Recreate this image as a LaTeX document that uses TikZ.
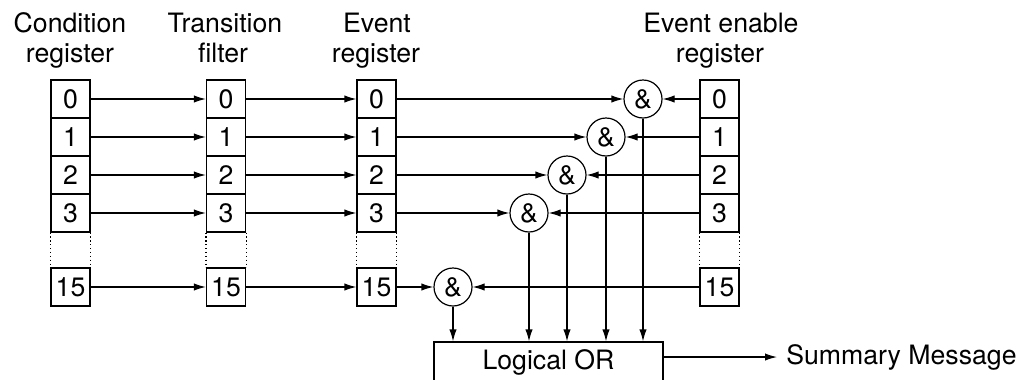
\documentclass[tikz,border=0pt]{standalone}
\usepackage{fontspec}
\setmainfont{TeX Gyre Heros}
\usetikzlibrary{arrows.meta}
\begin{document}
\begin{tikzpicture}[x=0.75pt,y=-0.75pt,
  every node/.style={font=\fontsize{20}{24}\selectfont},
  cell/.style={draw,line width=0.9pt,minimum width=29.25pt,minimum height=28.5pt,inner sep=0pt},
  gate/.style={draw,circle,line width=0.9pt,minimum size=28.5pt,inner sep=0pt},
  arr/.style={line width=0.9pt,-{Latex[length=9pt,width=5.5pt]}},
  hdr/.style={anchor=base,inner sep=0pt},
  dots/.style={dotted,line width=0.9pt},
]
\useasboundingbox (0,0) rectangle (1027,379);
\clip (0,0) rectangle (1027,379);
% headers
\node[hdr] (h1a) at (70,32) {Condition};
\node[hdr] (h1b) at (70,62) {register};
\node[hdr] (h2a) at (225,32) {Transition};
\node[hdr] (h2b) at (223,62) {filter};
\node[hdr] (h3a) at (377,32) {Event};
\node[hdr] (h3b) at (376,62) {register};
\node[hdr] (h4a) at (721,32) {Event enable};
\node[hdr] (h4b) at (720,62) {register};
% register cells
\foreach \c/\x in {a/70.5,b/226,c/376.5,e/719.5}{
  \foreach \r/\y in {0/99,1/137,2/175,3/213,15/287}{
    \node[cell] (\c\r) at (\x,\y) {\r};
  }
  \draw[dots] (\c3.south west) -- (\c15.north west);
  \draw[dots] (\c3.south east) -- (\c15.north east);
}
% gates
\foreach \r/\x/\y in {0/643/99,1/606/137,2/567/175,3/529/213,15/453/287}{
  \node[gate] (g\r) at (\x,\y) {\&};
}
% logical OR
\node[draw,line width=0.9pt,minimum width=171.75pt,minimum height=30pt,inner sep=0pt] (or) at (548.5,362) {Logical OR};
\node[anchor=west,inner sep=0pt] (sm) at (786,357) {Summary Message};
% connectors
\foreach \r in {0,1,2,3,15}{
  \draw[arr] (a\r.east) -- (b\r.west);
  \draw[arr] (b\r.east) -- (c\r.west);
  \draw[arr] (c\r.east) -- (g\r.west);
  \draw[arr] (e\r.west) -- (g\r.east);
  \draw[arr] (g\r.south) -- (g\r.south |- or.north);
}
\draw[arr,shorten >=6.75pt] (or.east |- sm.west) -- (sm.west);
\end{tikzpicture}
\end{document}
